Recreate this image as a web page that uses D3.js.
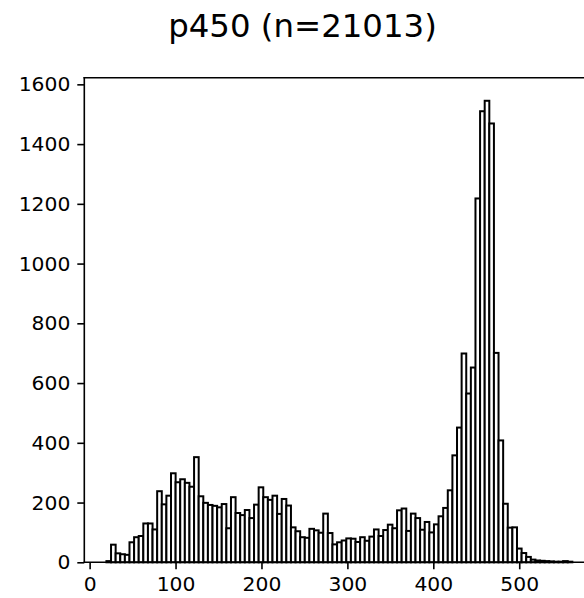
<!DOCTYPE html>
<html>
<head>
<meta charset="utf-8">
<script src="https://cdn.jsdelivr.net/npm/d3@7"></script>
<style>
  html, body { margin: 0; padding: 0; background: #fff; overflow: hidden; }
  svg { display: block; font-family: "DejaVu Sans", sans-serif; }
</style>
</head>
<body>
<svg id="chart" width="584" height="598"></svg>
<script>
// Histogram of sequence lengths, 101 equal-width bins
const titleText = "p450 (n=21013)";
const binStart = 19.55;
const binWidth = 5.369;
const counts = [
  4, 59, 30, 27, 25, 67, 84, 88, 130, 130,
  110, 238, 194, 223, 298, 268, 278, 266, 253, 352,
  221, 199, 192, 189, 184, 195, 114, 218, 165, 158,
  175, 148, 193, 251, 218, 209, 223, 162, 212, 190,
  117, 104, 84, 82, 112, 107, 99, 163, 98, 60,
  67, 73, 80, 79, 68, 84, 72, 86, 110, 88,
  108, 126, 114, 174, 180, 105, 163, 148, 109, 135,
  100, 127, 154, 182, 241, 358, 451, 699, 565, 652,
  1218, 1510, 1545, 1469, 701, 408, 196, 116, 117, 46,
  31, 18, 9, 6, 5, 4, 3, 2, 2, 4, 2
];
const xTicks = [0, 100, 200, 300, 400, 500];
const yTicks = [0, 200, 400, 600, 800, 1000, 1200, 1400, 1600];

const bins = counts.map((c, i) => ({
  x0: binStart + i * binWidth,
  x1: binStart + (i + 1) * binWidth,
  count: c
}));

const svg = d3.select("#chart");
const plotLeft = 84.3, plotRight = 595.7, plotTop = 77.7, plotBottom = 562.3;

const x = d3.scaleLinear().domain([-6.2, 589]).range([plotLeft, plotRight]);
const y = d3.scaleLinear().domain([0, d3.max(counts) * 1.05]).range([plotBottom, plotTop]);

// bars
svg.append("g")
  .selectAll("rect")
  .data(bins)
  .join("rect")
  .attr("x", d => x(d.x0))
  .attr("y", d => y(d.count))
  .attr("width", d => x(d.x1) - x(d.x0))
  .attr("height", d => y(0) - y(d.count))
  .attr("fill", "#fff")
  .attr("stroke", "#000")
  .attr("stroke-width", 2);

// axes
const fontSize = 20.3;
const xAxis = d3.axisBottom(x).tickValues(xTicks).tickFormat(d3.format("d"))
  .tickSize(7).tickPadding(7);
const yAxis = d3.axisLeft(y).tickValues(yTicks).tickFormat(d3.format("d"))
  .tickSize(7).tickPadding(7);

const gx = svg.append("g").attr("transform", `translate(0,${plotBottom})`).call(xAxis);
const gy = svg.append("g").attr("transform", `translate(${plotLeft},0)`).call(yAxis);
[gx, gy].forEach(g => {
  g.select(".domain").remove();
  g.selectAll(".tick line").attr("stroke", "#000").attr("stroke-width", 1.6);
  g.selectAll(".tick text").attr("fill", "#000")
    .attr("font-size", fontSize).attr("font-family", "DejaVu Sans");
});

// spines
const spine = svg.append("g").attr("fill", "none").attr("stroke", "#000")
  .attr("stroke-width", 1.6).attr("stroke-linecap", "square");
spine.append("line").attr("x1", plotLeft).attr("x2", plotLeft).attr("y1", plotTop).attr("y2", plotBottom);
spine.append("line").attr("x1", plotRight).attr("x2", plotRight).attr("y1", plotTop).attr("y2", plotBottom);
spine.append("line").attr("x1", plotLeft).attr("x2", plotRight).attr("y1", plotTop).attr("y2", plotTop);
spine.append("line").attr("x1", plotLeft).attr("x2", plotRight).attr("y1", plotBottom).attr("y2", plotBottom);

// title
svg.append("text")
  .attr("x", 302.5).attr("y", 37)
  .attr("text-anchor", "middle")
  .attr("font-size", 32.4)
  .attr("fill", "#000")
  .text(titleText);
</script>
</body>
</html>
